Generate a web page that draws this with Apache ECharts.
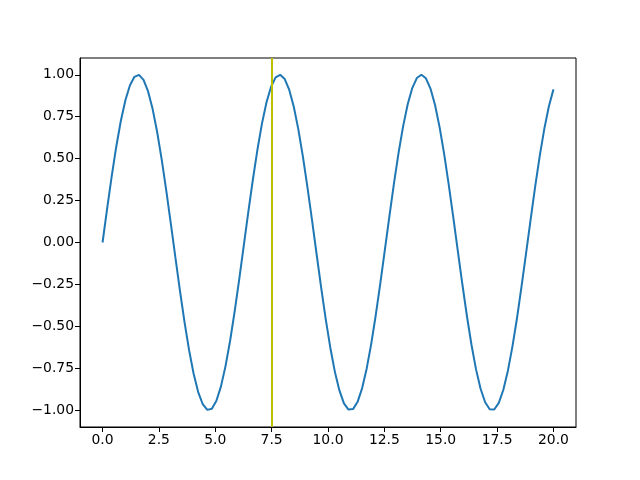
<!DOCTYPE html>
<html>
<head>
<meta charset="utf-8">
<script src="https://cdn.jsdelivr.net/npm/echarts@6/dist/echarts.min.js"></script>
<style>html,body{margin:0;padding:0;background:#fff;}#c{width:640px;height:480px;}</style>
</head>
<body>
<div id="c"></div>
<script>
const xValues = [0.0000,0.2020,0.4040,0.6061,0.8081,1.0101,1.2121,1.4141,1.6162,1.8182,
2.0202,2.2222,2.4242,2.6263,2.8283,3.0303,3.2323,3.4343,3.6364,3.8384,
4.0404,4.2424,4.4444,4.6465,4.8485,5.0505,5.2525,5.4545,5.6566,5.8586,
6.0606,6.2626,6.4646,6.6667,6.8687,7.0707,7.2727,7.4747,7.6768,7.8788,
8.0808,8.2828,8.4848,8.6869,8.8889,9.0909,9.2929,9.4949,9.6970,9.8990,
10.1010,10.3030,10.5051,10.7071,10.9091,11.1111,11.3131,11.5152,11.7172,11.9192,
12.1212,12.3232,12.5253,12.7273,12.9293,13.1313,13.3333,13.5354,13.7374,13.9394,
14.1414,14.3434,14.5455,14.7475,14.9495,15.1515,15.3535,15.5556,15.7576,15.9596,
16.1616,16.3636,16.5657,16.7677,16.9697,17.1717,17.3737,17.5758,17.7778,17.9798,
18.1818,18.3838,18.5859,18.7879,18.9899,19.1919,19.3939,19.5960,19.7980,20.0000];
const yValues = [0.0000,0.2007,0.3931,0.5696,0.7229,0.8469,0.9365,0.9878,0.9990,0.9696,
0.9007,0.7952,0.6574,0.4928,0.3082,0.1111,-0.0906,-0.2886,-0.4749,-0.6418,
-0.7826,-0.8916,-0.9643,-0.9978,-0.9908,-0.9434,-0.8577,-0.7370,-0.5872,-0.4117,
-0.2207,-0.0206,0.1805,0.3741,0.5526,0.7085,0.8357,0.9289,0.9843,0.9997,
0.9744,0.9095,0.8075,0.6727,0.5109,0.3277,0.1315,-0.0701,-0.2688,-0.4566,
-0.6257,-0.7698,-0.8818,-0.9587,-0.9963,-0.9933,-0.9500,-0.8680,-0.7507,-0.6029,
-0.4306,-0.2407,-0.0411,0.1602,0.3550,0.5354,0.6940,0.8243,0.9208,0.9805,
1.0000,0.9788,0.9178,0.8195,0.6879,0.5280,0.3470,0.1518,-0.0496,-0.2490,
-0.4383,-0.6097,-0.7565,-0.8720,-0.9526,-0.9943,-0.9955,-0.9562,-0.8781,-0.7642,
-0.6193,-0.4503,-0.2607,-0.0617,0.1399,0.3357,0.5179,0.6791,0.8126,0.9129];
const xTicks = [0, 2.5, 5, 7.5, 10, 12.5, 15, 17.5, 20];
const yTicks = [-1, -0.75, -0.5, -0.25, 0, 0.25, 0.5, 0.75, 1];
const vLineX = 7.5;

const chart = echarts.init(document.getElementById('c'), null, {renderer: 'canvas'});
const font = 'DejaVu Sans';
chart.setOption({
  animation: false,
  backgroundColor: '#fff',
  grid: {left: 80, right: 64, top: 58, bottom: 53, show: true, borderColor: '#000', borderWidth: 1, backgroundColor: 'transparent'},
  xAxis: {
    type: 'value', min: -1, max: 21, position: 'bottom',
    axisLine: {show: true, onZero: false, lineStyle: {color: '#000', width: 1}},
    splitLine: {show: false},
    axisTick: {show: true, inside: false, length: 5, lineStyle: {color: '#000', width: 1}, customValues: xTicks},
    axisLabel: {show: true, margin: 6, color: '#000', fontFamily: font, fontSize: 13.9,
      customValues: xTicks, formatter: v => v.toFixed(1)}
  },
  yAxis: {
    type: 'value', min: -1.1, max: 1.1, position: 'left',
    axisLine: {show: true, onZero: false, lineStyle: {color: '#000', width: 1}},
    splitLine: {show: false},
    axisTick: {show: true, inside: false, length: 5, lineStyle: {color: '#000', width: 1}, customValues: yTicks},
    axisLabel: {show: true, margin: 6, color: '#000', fontFamily: font, fontSize: 13.9,
      customValues: yTicks, formatter: v => v.toFixed(2).replace('-', '\u2212')}
  },
  series: [{
    type: 'line',
    data: xValues.map((x, i) => [x, yValues[i]]),
    showSymbol: false,
    lineStyle: {color: '#1f77b4', width: 2},
    markLine: {
      silent: true, symbol: 'none', label: {show: false},
      lineStyle: {color: '#bfbf00', width: 2, type: 'solid'},
      data: [{xAxis: vLineX}]
    },
    z: 2
  }]
});
</script>
</body>
</html>
